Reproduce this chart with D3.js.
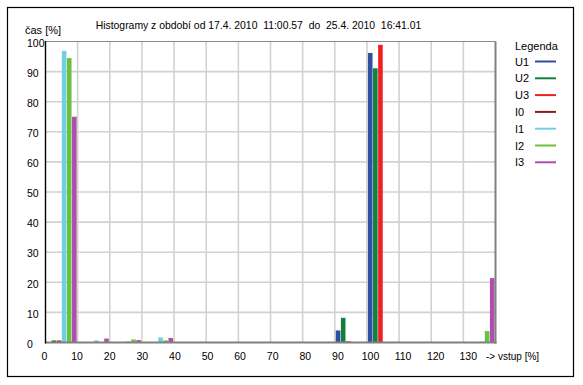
<!DOCTYPE html>
<html>
<head>
<meta charset="utf-8">
<script src="https://cdn.jsdelivr.net/npm/d3@7"></script>
<style>
html,body{margin:0;padding:0;background:#fff;}
svg{display:block;font-family:"Liberation Sans",Arial,sans-serif;}
</style>
</head>
<body>
<svg id="chart" width="583" height="385"></svg>
<script>
// ---- data ----
const bins = [0,10,20,30,40,50,60,70,80,90,100,110,120,130];
const seriesNames = ["U1","U2","U3","I0","I1","I2","I3"];
const seriesColors = ["#2f4fa3","#138040","#f02020","#8b1c1c","#6fd0e0","#6cc040","#b04eb0"];
const U1 = [0,0,0,0,0,0,0,0,0,4.0,96.2,0,0,0];
const U2 = [0.7,0,0,0,0,0,0,0,0,8.2,91.1,0,0,0];
const U3 = [0.7,0,0,0,0,0,0,0,0,0.4,98.9,0,0,0];
const I0 = [0,0,0,0,0,0,0,0,0,0,0,0,0,0];
const I1 = [96.9,0.7,0.4,1.7,0,0,0,0,0,0,0,0,0,0.3];
const I2 = [94.5,0,1.0,0.7,0,0,0,0,0,0,0,0,0,3.8];
const I3 = [75.0,1.3,0.8,1.5,0,0,0,0,0,0,0,0,0,21.4];
const seriesValues = [U1,U2,U3,I0,I1,I2,I3];
const barSlots = ["U1","U2","U3","I1","I2","I3"]; // I0 shares U3 slot (all zero)
const xTicks = [0,10,20,30,40,50,60,70,80,90,100,110,120,130];
const yTicks = [0,10,20,30,40,50,60,70,80,90,100];
const titleText = "Histogramy z období od 17.4. 2010  11:00.57  do  25.4. 2010  16:41.01";
const yTitle = "čas [%]";
const xTitle = "-> vstup [%]";
const legendTitle = "Legenda";

// ---- layout ----
const svg = d3.select("#chart");
const L = 45.5, R = 495.5, T = 41.5, B = 342.5;
const x = d3.scaleLinear().domain([0,140]).range([L,R]);
const xLab = d3.scaleLinear().domain([0,130]).range([44,467.8]);
const y = d3.scaleLinear().domain([0,100]).range([B,T]);
const sub = d3.scaleBand().domain(barSlots).range([0, x(10)-x(0)-2]).paddingInner(0.1);

// outer frame
svg.append("rect").attr("x",7.5).attr("y",7.5).attr("width",566).attr("height",369)
  .attr("fill","none").attr("stroke","#000").attr("stroke-width",1.2);

// gridlines
const grid = svg.append("g");
grid.selectAll(".vg").data(xTicks.filter(d=>d>0)).enter().append("line")
  .attr("x1",d=>x(d)).attr("x2",d=>x(d)).attr("y1",T).attr("y2",B)
  .attr("stroke","#d2d2d2").attr("stroke-width",1.6);
grid.selectAll(".hg").data(yTicks.filter(d=>d>0&&d<100)).enter().append("line")
  .attr("x1",L).attr("x2",R).attr("y1",d=>y(d)).attr("y2",d=>y(d))
  .attr("stroke","#d2d2d2").attr("stroke-width",1.6);

// bars
const barData = [];
seriesNames.forEach((name,si)=>{
  seriesValues[si].forEach((v,bi)=>{
    if (v>0) barData.push({name, color:seriesColors[si], bin:bins[bi], v});
  });
});
svg.append("g").selectAll("rect").data(barData).enter().append("rect")
  .attr("x",d=>x(d.bin)+1+sub(d.name==="I0"?"U3":d.name))
  .attr("width",sub.bandwidth())
  .attr("y",d=>y(d.v))
  .attr("height",d=>y(0)-y(d.v))
  .attr("fill",d=>d.color);

// plot frame
svg.append("line").attr("x1",L).attr("x2",R).attr("y1",T).attr("y2",T).attr("stroke","#8a8a8a").attr("stroke-width",1.2);
svg.append("line").attr("x1",R).attr("x2",R).attr("y1",T).attr("y2",B+1).attr("stroke","#808080").attr("stroke-width",2);
svg.append("line").attr("x1",L).attr("x2",R+1).attr("y1",B).attr("y2",B).attr("stroke","#808080").attr("stroke-width",2);
svg.append("line").attr("x1",L).attr("x2",L).attr("y1",T-0.5).attr("y2",B+1).attr("stroke","#000").attr("stroke-width",1.4);

// axes text via d3 axes
const xAxis = svg.append("g").attr("transform",`translate(0,${B})`)
  .call(d3.axisBottom(xLab).tickValues(xTicks).tickSize(0).tickPadding(10));
const yAxis = svg.append("g").attr("transform",`translate(${L},0)`)
  .call(d3.axisLeft(y).tickValues(yTicks).tickSize(0).tickPadding(4));
[xAxis,yAxis].forEach(a=>{
  a.select(".domain").remove();
  a.selectAll("text").attr("font-family","Liberation Sans, Arial, sans-serif").attr("font-size",10.5).attr("fill","#000");
});
yAxis.selectAll("text").attr("dy","0.45em").attr("text-anchor","start").attr("x",27-L);

// titles
svg.append("text").attr("x",258.5).attr("y",29).attr("text-anchor","middle")
  .attr("font-size",10.4).attr("xml:space","preserve").style("white-space","pre").text(titleText);
svg.append("text").attr("x",25).attr("y",34).attr("font-size",11).text(yTitle);
svg.append("text").attr("x",486).attr("y",360).attr("font-size",10).text(xTitle);

// legend
const lg = svg.append("g");
lg.append("text").attr("x",515).attr("y",50).attr("font-size",11).text(legendTitle);
const items = lg.selectAll(".it").data(seriesNames).enter().append("g")
  .attr("transform",(d,i)=>`translate(0,${61.5+i*16.8})`);
items.append("text").attr("x",515).attr("y",4).attr("font-size",11).text(d=>d);
items.append("line").attr("x1",535).attr("x2",556).attr("y1",0).attr("y2",0)
  .attr("stroke",(d,i)=>seriesColors[i]).attr("stroke-width",2);
</script>
</body>
</html>
